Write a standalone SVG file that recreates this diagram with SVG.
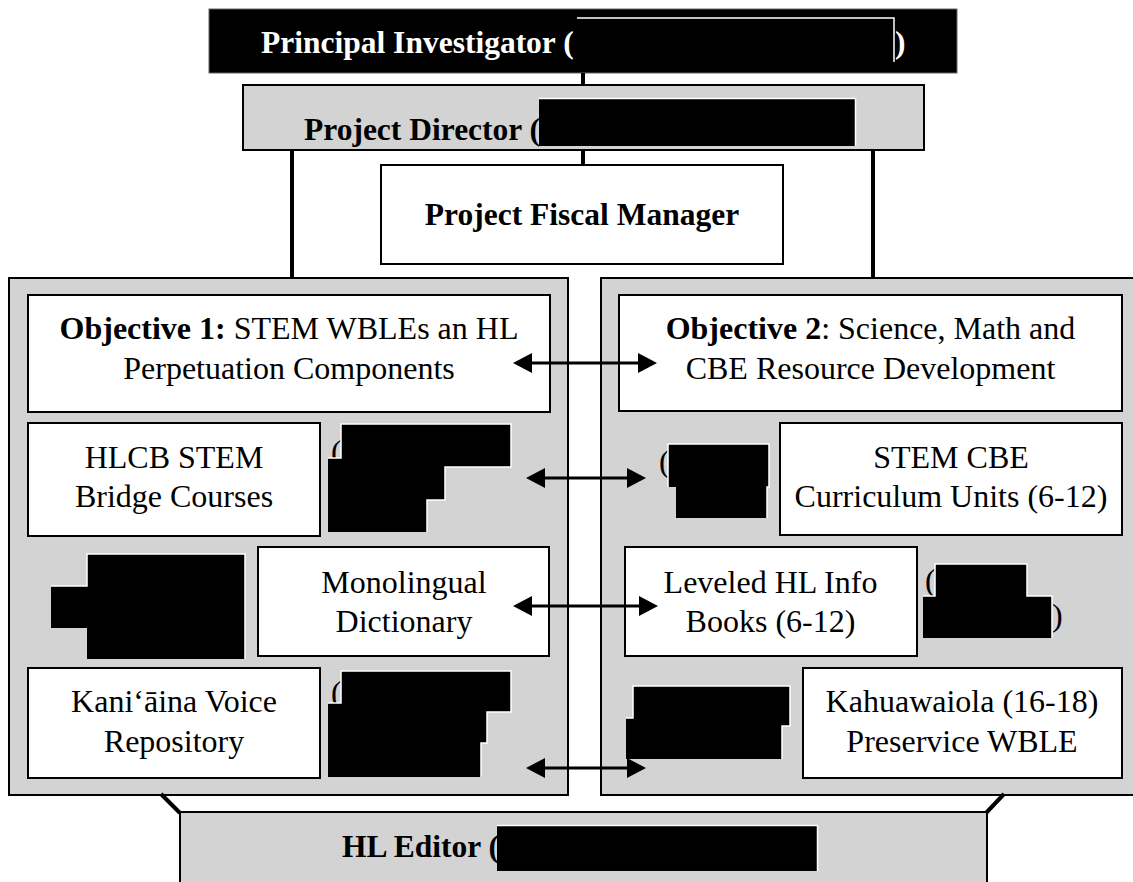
<svg xmlns="http://www.w3.org/2000/svg" width="1133" height="882" viewBox="0 0 1133 882">
<defs>
<style>
.t{font-family:"Liberation Serif","Times New Roman",serif;font-size:32px;fill:#000}
.b{font-family:"Liberation Serif","Times New Roman",serif;font-size:31.5px;font-weight:bold;fill:#000}
.box{fill:#fff;stroke:#000;stroke-width:2}
.gray{fill:#d3d3d3;stroke:#000;stroke-width:2}
.red{fill:#000}
.edge{fill:none;stroke:#fff;stroke-width:1.5}
.conn{stroke:#000;stroke-width:4;fill:none}
.arr{stroke:#000;stroke-width:3;fill:none;marker-start:url(#ah);marker-end:url(#ah)}
</style>
<marker id="ah" viewBox="0 0 19 20" refX="9" refY="10" markerWidth="19" markerHeight="20" markerUnits="userSpaceOnUse" orient="auto-start-reverse">
<path d="M0,0 L19,10 L0,20 z" fill="#000"/>
</marker>
</defs>
<rect width="1133" height="882" fill="#fff"/>

<g id="pi">
<rect x="209" y="9" width="748" height="64" fill="#000" stroke="#666" stroke-width="1"/>
<text class="b" x="261" y="53" style="fill:#fff">Principal Investigator (</text>
<rect class="red" x="577" y="18" width="317" height="44"/>
<path class="edge" d="M577,18 H894 V62"/>
<text class="b" x="895" y="53" style="fill:#fff">)</text>
</g>

<g id="director">
<rect class="gray" x="243" y="85" width="681" height="65"/>
<text class="b" x="304" y="140">Project Director (</text>
<rect class="red" x="539" y="99" width="316" height="47"/>
<path class="edge" d="M539,98.5 H855.5 V146"/>
</g>

<g id="fiscal">
<rect class="box" x="381" y="165" width="402" height="99"/>
<text class="b" x="582" y="225" text-anchor="middle">Project Fiscal Manager</text>
</g>

<g id="container-left">
<rect class="gray" x="9" y="278" width="559" height="517"/>
</g>
<g id="container-right">
<rect class="gray" x="601" y="278" width="540" height="517"/>
</g>

<g id="hl-editor">
<rect class="gray" x="180" y="812" width="807" height="80"/>
<text class="b" x="342" y="857">HL Editor (</text>
<rect class="red" x="497" y="826" width="320" height="45"/>
<path class="edge" d="M497,825.5 H817.5 V871"/>
</g>

<g id="objective1">
<rect class="box" x="28" y="295" width="522" height="117"/>
<text class="t" x="289" y="339" text-anchor="middle"><tspan font-weight="bold">Objective 1:</tspan> STEM WBLEs an HL</text>
<text class="t" x="289" y="379" text-anchor="middle">Perpetuation Components</text>
</g>

<g id="objective2">
<rect class="box" x="619" y="295" width="503" height="116"/>
<text class="t" x="870.5" y="339" text-anchor="middle"><tspan font-weight="bold">Objective 2</tspan>: Science, Math and</text>
<text class="t" x="870.5" y="379" text-anchor="middle">CBE Resource Development</text>
</g>

<g id="hlcb">
<rect class="box" x="28" y="423" width="292" height="113"/>
<text class="t" x="174" y="468" text-anchor="middle">HLCB STEM</text>
<text class="t" x="174" y="507" text-anchor="middle">Bridge Courses</text>
</g>
<g id="redact-2l">
<text class="t" x="331" y="462">(</text>
<path class="red" d="M341,424 H511 V467 H445 V500 H427 V532 H328 V458 H341 Z"/>
<path class="edge" d="M328,458 H341 V424 H511 V467 H445 V500 H427 V532"/>
</g>

<g id="stemcbe">
<rect class="box" x="780" y="423" width="342" height="112"/>
<text class="t" x="951" y="468" text-anchor="middle">STEM CBE</text>
<text class="t" x="951" y="507" text-anchor="middle">Curriculum Units (6-12)</text>
</g>
<g id="redact-2r">
<text class="t" x="659" y="472">(</text>
<path class="red" d="M668,444 H769 V487 H767 V518 H676 V487 H668 Z"/>
<path class="edge" d="M668,487 V444 H769 V487 H767 V518"/>
</g>

<g id="monolingual">
<rect class="box" x="258" y="547" width="291" height="109"/>
<text class="t" x="404" y="593" text-anchor="middle">Monolingual</text>
<text class="t" x="404" y="632" text-anchor="middle">Dictionary</text>
</g>
<g id="redact-3l">
<path class="red" d="M87,554 H245 V659 H87 V628 H51 V586 H87 Z"/>
<path class="edge" d="M51,586 H87 V554 H245 V659"/>
</g>

<g id="leveled">
<rect class="box" x="625" y="547" width="292" height="109"/>
<text class="t" x="770.5" y="593" text-anchor="middle">Leveled HL Info</text>
<text class="t" x="770.5" y="632" text-anchor="middle">Books (6-12)</text>
</g>
<g id="redact-3r">
<text class="t" x="925" y="591">(</text>
<text class="t" x="1052" y="626">)</text>
<path class="red" d="M935,564 H1027 V596 H1052 V638 H923 V596 H935 Z"/>
<path class="edge" d="M923,596 H935 V564 H1027 V596 H1052 V638"/>
</g>

<g id="kaniaina">
<rect class="box" x="28" y="668" width="292" height="110"/>
<text class="t" x="174" y="712" text-anchor="middle">Kani‘āina Voice</text>
<text class="t" x="174" y="752" text-anchor="middle">Repository</text>
</g>
<g id="redact-4l">
<text class="t" x="331" y="703">(</text>
<path class="red" d="M341,671 H511 V712 H487 V743 H481 V777 H328 V703 H341 Z"/>
<path class="edge" d="M328,703 H341 V671 H511 V712 H487 V743 H481 V777"/>
</g>

<g id="kahuawaiola">
<rect class="box" x="803" y="668" width="319" height="110"/>
<text class="t" x="962" y="712" text-anchor="middle">Kahuawaiola (16-18)</text>
<text class="t" x="962" y="752" text-anchor="middle">Preservice WBLE</text>
</g>
<g id="redact-4r">
<path class="red" d="M633,686 H790 V726 H782 V759 H626 V718 H633 Z"/>
<path class="edge" d="M626,718 H633 V686 H790 V726 H782 V759"/>
</g>

<g id="connectors">
<line class="conn" x1="583" y1="73" x2="583" y2="85"/>
<line class="conn" x1="292" y1="150" x2="292" y2="278"/>
<line class="conn" x1="583" y1="150" x2="583" y2="165"/>
<line class="conn" x1="873" y1="150" x2="873" y2="278"/>
<polyline class="conn" points="161,794 180,813"/>
<polyline class="conn" points="1004,794 986,813"/>
<line class="arr" x1="523" y1="363" x2="647" y2="363"/>
<line class="arr" x1="536" y1="478" x2="636" y2="478"/>
<line class="arr" x1="523" y1="606" x2="648" y2="606"/>
<line class="arr" x1="536" y1="768" x2="636" y2="768"/>
</g>
</svg>
